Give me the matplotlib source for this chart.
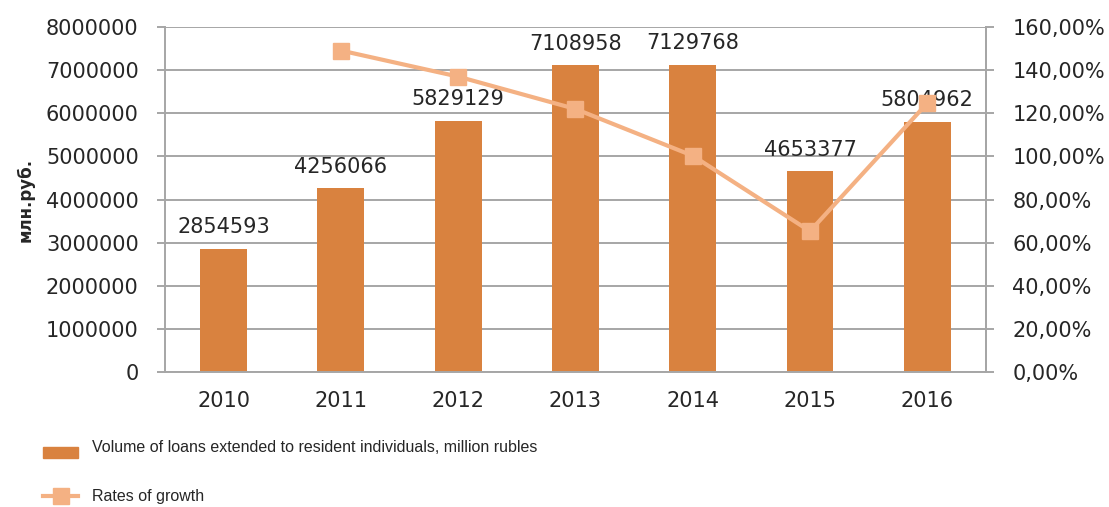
import matplotlib
matplotlib.use("Agg")
import matplotlib.pyplot as plt
from matplotlib.ticker import FuncFormatter, MultipleLocator
from matplotlib.patches import Rectangle
from matplotlib.lines import Line2D

years = ["2010", "2011", "2012", "2013", "2014", "2015", "2016"]
volumes = [2854593, 4256066, 5829129, 7108958, 7129768, 4653377, 5804962]
growth_years = ["2011", "2012", "2013", "2014", "2015", "2016"]
growth = [149.1, 137.0, 122.0, 100.3, 65.3, 124.7]

bar_color = "#D9823F"
line_color = "#F4B183"
grid_color = "#A6A6A6"
text_color = "#262626"
fs = 15

fig = plt.figure(figsize=(11.09, 5.07), dpi=100)
ax = fig.add_axes([0.1488, 0.2663, 0.7402, 0.6804])
x = list(range(len(years)))
ax.bar(x, volumes, width=0.40, color=bar_color, zorder=2)
ax.set_xlim(-0.5, len(years) - 0.5)
ax.set_ylim(0, 8000000)
ax.yaxis.set_major_locator(MultipleLocator(1000000))
ax.yaxis.set_major_formatter(FuncFormatter(lambda v, p: f"{int(v)}"))
ax.set_xticks(x)
ax.set_xticklabels(years)
ax.grid(axis="y", color=grid_color, linewidth=1.4, zorder=0)
ax.set_axisbelow(True)
ax.spines["top"].set_visible(False)
for s in ["left", "right", "bottom"]:
    ax.spines[s].set_color(grid_color)
    ax.spines[s].set_linewidth(1.4)
ax.tick_params(axis="y", length=6, width=1.4, color=grid_color, labelsize=fs,
               labelcolor=text_color, pad=13)
ax.tick_params(axis="x", length=0, labelsize=fs, labelcolor=text_color, pad=14)
ax.set_ylabel("млн.руб.", fontsize=12, fontweight="bold", color=text_color, labelpad=8)

for xi, v in zip(x, volumes):
    ax.annotate(f"{v}", (xi, v), xytext=(0, 8.5), textcoords="offset points",
                ha="center", va="bottom", fontsize=fs, color=text_color, zorder=5)

ax2 = ax.twinx()
gx = [years.index(y) for y in growth_years]
ax2.plot(gx, growth, color=line_color, linewidth=3, marker="s", markersize=12,
         zorder=4)
ax2.set_ylim(0, 160)
ax2.yaxis.set_major_locator(MultipleLocator(20))
ax2.yaxis.set_major_formatter(FuncFormatter(lambda v, p: f"{v:.2f}".replace(".", ",") + "%"))
ax2.tick_params(axis="y", length=6, width=1.4, color=grid_color, labelsize=fs,
                labelcolor=text_color, pad=13)
for s in ["top", "left", "bottom"]:
    ax2.spines[s].set_visible(False)
ax2.spines["right"].set_color(grid_color)
ax2.spines["right"].set_linewidth(1.4)

# legend drawn manually
legfont = ["Liberation Sans"]
fig.patches.append(Rectangle((43 / 1109, 1 - 458 / 507), 35 / 1109, 11 / 507,
                             transform=fig.transFigure, color=bar_color))
fig.text(92 / 1109, 1 - 447 / 507, "Volume of loans extended to resident individuals, million rubles",
         fontsize=11.5, family=legfont, color=text_color, va="center", ha="left")
fig.lines.append(Line2D([43 / 1109, 78 / 1109], [1 - 496 / 507, 1 - 496 / 507],
                        transform=fig.transFigure, color=line_color, linewidth=3))
fig.lines.append(Line2D([60.5 / 1109], [1 - 496 / 507], transform=fig.transFigure,
                        color=line_color, marker="s", markersize=12, linestyle="none"))
fig.text(92 / 1109, 1 - 497 / 507, "Rates of growth",
         fontsize=11.5, family=legfont, color=text_color, va="center", ha="left")

fig.savefig("out.png", dpi=100)
